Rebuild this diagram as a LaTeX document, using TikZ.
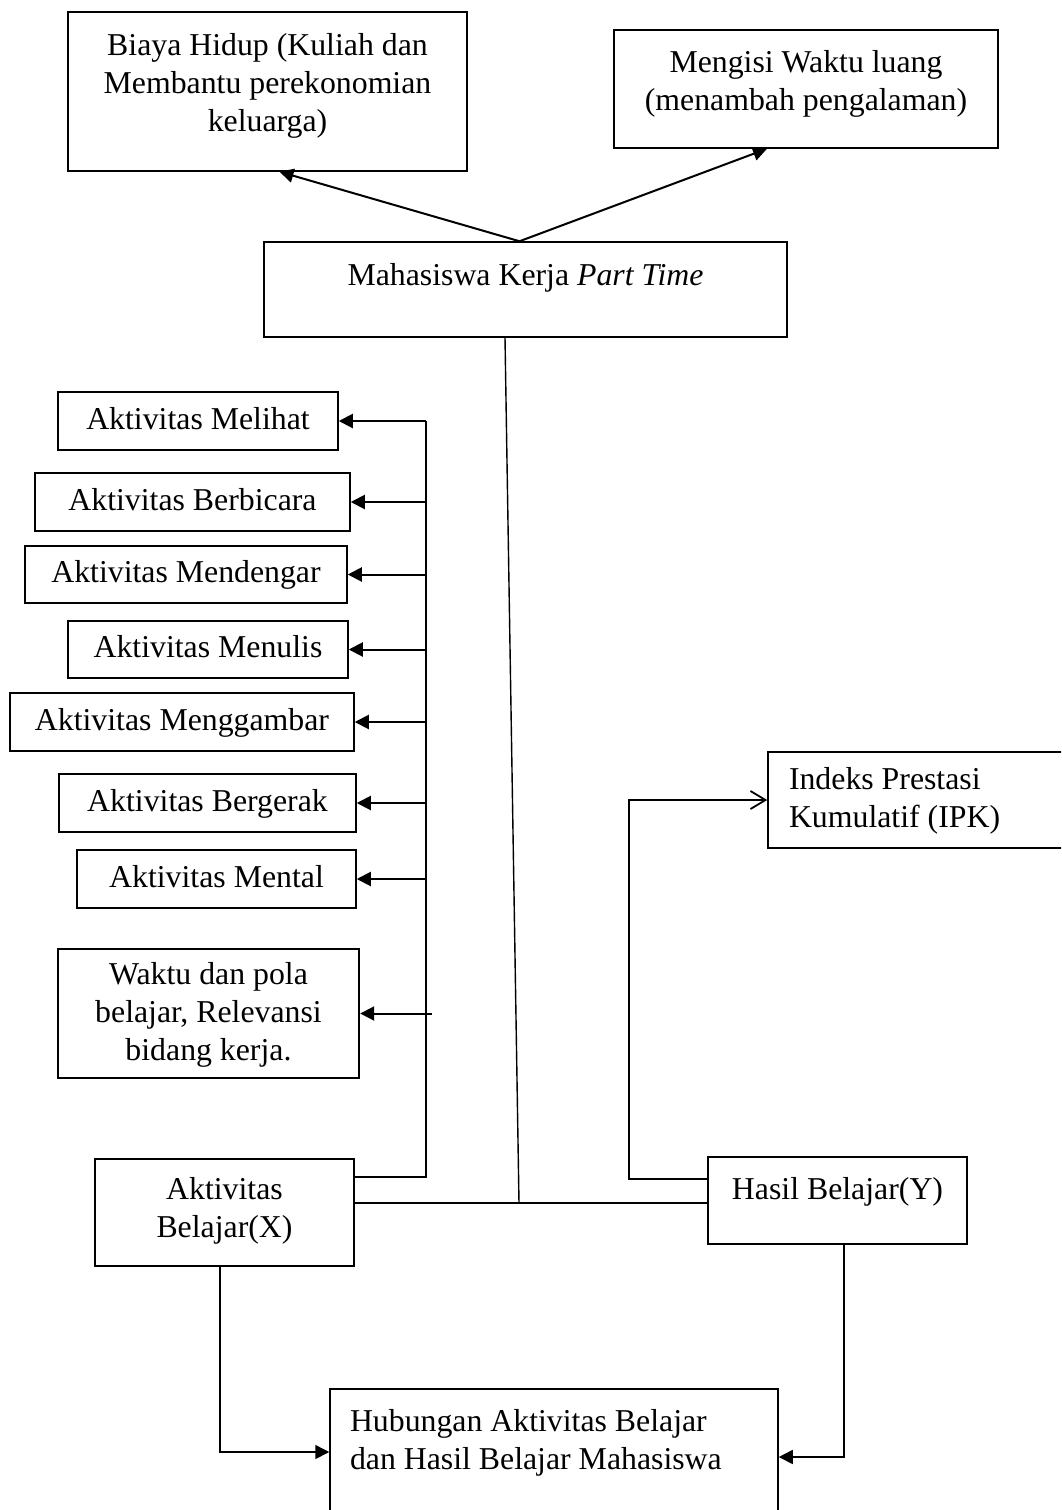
\documentclass[tikz,border=0pt]{standalone}
\usepackage{fontspec}
\setmainfont{Liberation Serif}
\usetikzlibrary{arrows.meta, positioning}

\newcommand{\atas}{\rule{0pt}{24pt}}
\newcommand{\dalam}[1]{\rule[-#1pt]{0pt}{#1pt}}

\begin{document}
\begin{tikzpicture}[
    x=1pt, y=-1pt,
    box/.style={draw, line width=1.5pt, align=center, inner sep=0pt,
                font=\fontsize{31.8}{38}\selectfont},
    akt/.style={box, minimum height=58pt, text height=24pt, text depth=8pt},
    link/.style={line width=1.4pt},
    arr/.style={-{Triangle[length=14pt, width=14pt]}, line width=2pt},
    barb/.style={-{Straight Barb[length=15pt, width=18pt]}, line width=1.8pt}
  ]
    \useasboundingbox (0,0) rectangle (1061,1510);
    \clip (0,0) rectangle (1061,1510);

    % Tujuan kerja
    \node[box, minimum width=399pt, minimum height=159pt] (biaya) at (267.5,91.5)
      {\atas Biaya Hidup (Kuliah dan\\Membantu perekonomian\\keluarga)\dalam{21}};
    \node[box, minimum width=384pt, minimum height=118pt] (luang) at (806,89)
      {\atas Mengisi Waktu luang\\(menambah pengalaman)\dalam{20}};

    % Mahasiswa
    \node[box, minimum width=523pt, minimum height=95pt] (kerja) at (525.5,289.5)
      {\atas Mahasiswa Kerja \textit{Part Time}\dalam{33}};

    % Aktivitas
    \node[akt, minimum width=280pt] (melihat) at (198,421) {Aktivitas Melihat};
    \node[akt, minimum width=315pt] (bicara) at (192.5,502) {Aktivitas Berbicara};
    \node[akt, minimum width=322pt, minimum height=57pt] (dengar) at (186,574.5)
      {Aktivitas Mendengar};
    \node[akt, minimum width=280pt, minimum height=57pt] (tulis) at (208,649.5)
      {Aktivitas Menulis};
    \node[akt, minimum width=344pt] (gambar) at (182,722) {Aktivitas Menggambar};
    \node[akt, minimum width=297pt] (gerak) at (207.5,803) {Aktivitas Bergerak};
    \node[akt, minimum width=279pt] (mental) at (216.5,879) {Aktivitas Mental};
    \node[box, line width=2.4pt, minimum width=301pt, minimum height=129pt] (waktu)
      at (208.5,1013.5)
      {\atas Waktu dan pola\\belajar, Relevansi\\bidang kerja.};

    % IPK
    \node[box, align=flush left, text width=270pt, minimum width=312pt,
          minimum height=96pt] (ipk) at (924,800)
      {\atas Indeks Prestasi\\Kumulatif (IPK)\dalam{2}};

    % Variabel X dan Y
    \node[box, minimum width=259pt, minimum height=107pt] (ab) at (224.5,1212.5)
      {\atas Aktivitas\\Belajar(X)\dalam{13}};
    \node[box, minimum width=259pt, minimum height=87pt] (hasil) at (837.5,1200.5)
      {\atas Hasil Belajar(Y)\dalam{27}};

    % Hubungan
    \node[box, align=flush left, text width=408pt, minimum width=448pt,
          minimum height=126pt] (hubungan) at (554,1452)
      {\atas Hubungan Aktivitas Belajar\\dan Hasil Belajar Mahasiswa\dalam{28}};

    % Panah ke atas
    \draw[arr] ([xshift=-6pt]kerja.north) -- ([xshift=12pt]biaya.south);
    \draw[arr] ([xshift=-6pt]kerja.north) -- ([xshift=-39pt]luang.south);

    % Garis tengah
    \coordinate (temu) at (519,1203);
    \draw[link] ([xshift=-20.5pt]kerja.south) -- (temu);
    \draw[link] (ab.east |- temu) -- (hasil.west |- temu);

    % Jalur aktivitas
    \coordinate (jalur) at (426,1177);
    \draw[link] (ab.east |- jalur) -- (jalur) -- (jalur |- melihat.east);
    \draw[arr] (jalur |- melihat.east) -- (melihat.east);
    \draw[arr] (jalur |- bicara.east) -- (bicara.east);
    \draw[arr] (jalur |- dengar.east) -- (dengar.east);
    \draw[arr] (jalur |- tulis.east) -- (tulis.east);
    \draw[arr] (jalur |- gambar.east) -- (gambar.east);
    \draw[arr] (jalur |- gerak.east) -- (gerak.east);
    \draw[arr] (jalur |- mental.east) -- (mental.east);
    \draw[arr] ([xshift=6pt]jalur |- waktu.east) -- (waktu.east);

    % Hasil ke IPK
    \draw[barb] ([yshift=21.5pt]hasil.west) -- ++(-78,0) |- (ipk.west);

    % Ke hubungan
    \draw[arr, line width=1.6pt] ([xshift=-4.5pt]ab.south) |- (hubungan.west);
    \draw[arr, line width=1.6pt] ([xshift=6.5pt]hasil.south)
      |- ([yshift=-5pt]hubungan.east);
\end{tikzpicture}
\end{document}
